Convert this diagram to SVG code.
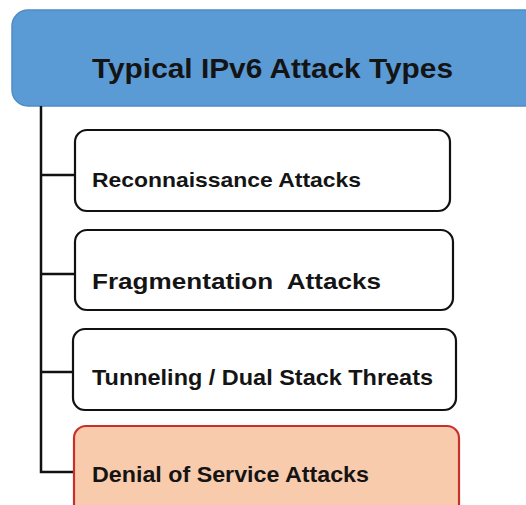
<svg xmlns="http://www.w3.org/2000/svg" width="526" height="505" viewBox="0 0 526 505">
<style>
.box{fill:#ffffff;stroke:#111111;stroke-width:2.2}
.lbl{font-family:"Liberation Sans",Arial,sans-serif;font-weight:bold;fill:#141414}
.conn{fill:none;stroke:#111111;stroke-width:2.5}
</style>
<rect x="0" y="0" width="526" height="505" fill="#ffffff"/>
<g id="header">
<rect x="12" y="10" width="540" height="96" rx="16" ry="16" fill="#5b9bd5" stroke="#4f8cc6" stroke-width="1.5"/>
<text class="lbl" x="92" y="78" font-size="28" textLength="361" lengthAdjust="spacingAndGlyphs" fill="#10151c">Typical IPv6 Attack Types</text>
</g>
<g id="connectors">
<path class="conn" d="M41,106 V472 H75"/>
<path class="conn" d="M41,175 H75"/>
<path class="conn" d="M41,274 H75"/>
<path class="conn" d="M41,372 H73"/>
</g>
<g id="recon">
<rect class="box" x="75" y="130" width="375" height="81" rx="12" ry="12"/>
<text class="lbl" x="92" y="187" font-size="21" textLength="269" lengthAdjust="spacingAndGlyphs">Reconnaissance Attacks</text>
</g>
<g id="frag">
<rect class="box" x="75" y="230" width="378" height="80" rx="12" ry="12"/>
<text class="lbl" x="92" y="289" font-size="22.5" textLength="289" lengthAdjust="spacingAndGlyphs" xml:space="preserve">Fragmentation  Attacks</text>
</g>
<g id="tunnel">
<rect class="box" x="73" y="329" width="383" height="81" rx="12" ry="12"/>
<text class="lbl" x="92" y="385" font-size="22.5" textLength="341" lengthAdjust="spacingAndGlyphs">Tunneling / Dual Stack Threats</text>
</g>
<g id="dos">
<rect x="74" y="426" width="385" height="90" rx="12" ry="12" fill="#f8cbad" stroke="#c9302c" stroke-width="2.2"/>
<text class="lbl" x="92" y="482" font-size="22.5" textLength="277" lengthAdjust="spacingAndGlyphs">Denial of Service Attacks</text>
</g>
</svg>
